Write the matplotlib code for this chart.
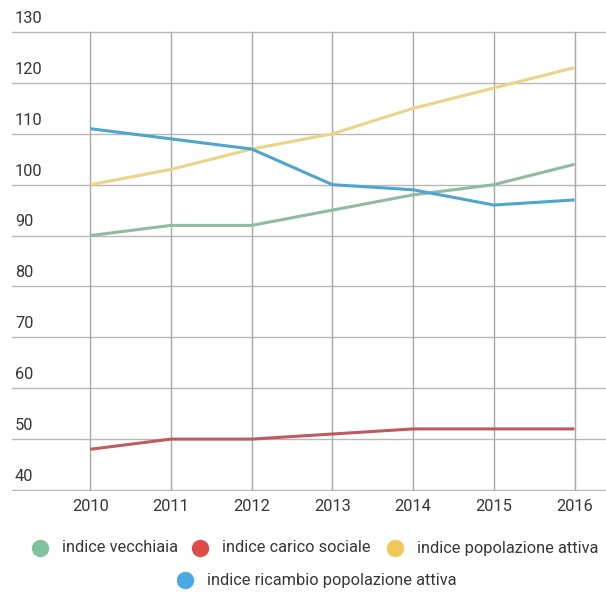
import matplotlib
matplotlib.use("Agg")
import matplotlib.pyplot as plt
from matplotlib.lines import Line2D

plt.rcParams['font.family'] = ['Roboto', 'DejaVu Sans']

# dati per anno
anni = [2010, 2011, 2012, 2013, 2014, 2015, 2016]
vecchiaia = [90, 92, 92, 95, 98, 100, 104]
carico_sociale = [48, 50, 50, 51, 52, 52, 52]
popolazione_attiva = [100, 103, 107, 110, 115, 119, 123]
ricambio = [111, 109, 107, 100, 99, 96, 97]
y_ticks = [40, 50, 60, 70, 80, 90, 100, 110, 120, 130]

nomi = ['indice vecchiaia', 'indice carico sociale',
        'indice popolazione attiva', 'indice ricambio popolazione attiva']
colori_linea = ['#8fbba0', '#bf5b60', '#e9d488', '#4fa5cc']
colori_legenda = ['#80c29c', '#e04a4a', '#f0c855', '#4aa9e2']
testo = '#363636'

fig = plt.figure(figsize=(6.06, 6.08), dpi=100)
ax = fig.add_axes([12 / 606, 117 / 608, 594 / 606, 460 / 608])

serie = [vecchiaia, carico_sociale, popolazione_attiva, ricambio]
for valori, col in zip(serie, colori_linea):
    ax.plot(anni, valori, color=col, lw=2.2, solid_capstyle='butt', zorder=3)

ax.set_xlim(2009.03, 2016.39)
ax.set_ylim(39.8, 130.2)
ax.set_xticks(anni)
ax.set_yticks(y_ticks)
ax.set_yticklabels([])
ax.tick_params(length=0)
for s in ax.spines.values():
    s.set_visible(False)
ax.grid(True, color='#b8b8b8', lw=1)
ax.set_axisbelow(True)

# le linee verticali vanno solo da 40 a 130
ax.xaxis.grid(False)
for a in anni:
    ax.plot([a, a], [40, 130], color='#a8a8a8', lw=1, zorder=1)

ax.set_xticklabels([str(a) for a in anni], fontsize=11.8, color=testo)
ax.tick_params(axis='x', pad=6)

# etichette asse y sopra le linee della griglia
for v in y_ticks:
    ax.text(0.005, v + 1.2, str(v), transform=ax.get_yaxis_transform(),
            fontsize=11.8, color=testo, ha='left', va='bottom')

# legenda
righe = [(548, [(40, 0), (200, 1), (395, 2)]), (580, [(185, 3)])]
for ypix, voci in righe:
    yf = 1 - ypix / 608
    for xpix, i in voci:
        fig.add_artist(Line2D([xpix / 606], [yf], marker='o', markersize=11.5,
                              color=colori_legenda[i], transform=fig.transFigure))
        fig.text((xpix + 22) / 606, yf, nomi[i], fontsize=11.8, color=testo,
                 ha='left', va='center')

fig.savefig('out.png', dpi=100, facecolor='white')
